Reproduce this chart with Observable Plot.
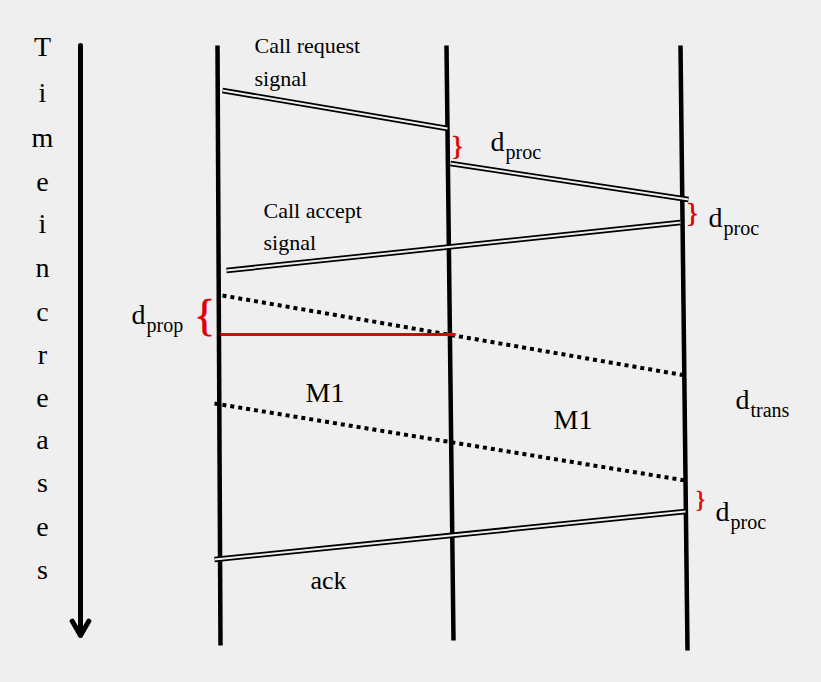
<!DOCTYPE html>
<html><head>
<script src="https://cdn.jsdelivr.net/npm/d3@7"></script>
<script src="https://cdn.jsdelivr.net/npm/@observablehq/plot@0.6"></script>
<style>body{margin:0;background:#efefef}</style>
</head><body>
<div id="c"></div>
<script>
const bg = "#efefef";
const F = "Liberation Serif, Times New Roman, serif";
const timelines = [
  {x1:217,y1:45,x2:220,y2:645},
  {x1:446,y1:45,x2:453,y2:640},
  {x1:680,y1:45,x2:687,y2:650}
];
const signals = [
  {x1:222,y1:90,x2:447,y2:128},
  {x1:450,y1:163,x2:688,y2:199},
  {x1:226,y1:270,x2:680,y2:222},
  {x1:214,y1:559,x2:685,y2:511}
];
const messages = [
  {x1:222,y1:295,x2:685,y2:375},
  {x1:214,y1:403,x2:685,y2:480}
];
const propLine = [{x1:220,y1:334,x2:455,y2:334}];
const letters = "Timeincreases".split("");
const letterY = [47,93,138,182,224,268,312,355,398,440,483,527,570];
const labels = [
  {x:254,y:45,t:"Call request",s:22},
  {x:254,y:78,t:"signal",s:22},
  {x:263,y:210,t:"Call accept",s:22},
  {x:263,y:242,t:"signal",s:22},
  {x:305,y:393,t:"M1",s:28},
  {x:553,y:420,t:"M1",s:28},
  {x:310,y:580,t:"ack",s:26}
];
const subs = [
  {x:490,y:142,sub:"proc"},
  {x:708,y:218,sub:"proc"},
  {x:131,y:315,sub:"prop"},
  {x:735,y:400,sub:"trans"},
  {x:715,y:512,sub:"proc"}
];
const braces = [
  {x:457,y:146,t:"}",s:28},
  {x:692,y:213,t:"}",s:28},
  {x:204,y:315,t:"{",s:44},
  {x:700,y:499,t:"}",s:24}
];
const bigBrace = [{x:703,y:428,t:"}",s:46}];
const plot = Plot.plot({
  width:821, height:682, margin:0,
  x:{domain:[0,821], range:[0,821], axis:null},
  y:{domain:[0,682], range:[0,682], axis:null},
  style:{background:bg},
  marks:[
    Plot.link(timelines,{x1:"x1",y1:"y1",x2:"x2",y2:"y2",stroke:"black",strokeWidth:4.5}),
    Plot.link(signals,{x1:"x1",y1:"y1",x2:"x2",y2:"y2",stroke:"black",strokeWidth:5.5}),
    Plot.link(signals,{x1:"x1",y1:"y1",x2:"x2",y2:"y2",stroke:bg,strokeWidth:2}),
    Plot.link(messages,{x1:"x1",y1:"y1",x2:"x2",y2:"y2",stroke:"black",strokeWidth:4,strokeDasharray:"4,4"}),
    Plot.link(propLine,{x1:"x1",y1:"y1",x2:"x2",y2:"y2",stroke:"#e00000",strokeWidth:3}),
    Plot.arrow([{x1:80,y1:45,x2:80,y2:635}],{x1:"x1",y1:"y1",x2:"x2",y2:"y2",stroke:"black",strokeWidth:5,headLength:5}),
    Plot.text(letters,{x:42,y:(d,i)=>letterY[i],text:d=>d,fontSize:28,fontFamily:F,fill:"black"}),
    Plot.text(labels,{x:"x",y:"y",text:"t",fontSize:d=>d.s,fontFamily:F,textAnchor:"start",fill:"black"}),
    Plot.text(subs,{x:"x",y:"y",text:()=>"d",fontSize:28,fontFamily:F,textAnchor:"start",fill:"black"}),
    Plot.text(subs,{x:d=>d.x+15,y:d=>d.y+10,text:"sub",fontSize:20,fontFamily:F,textAnchor:"start",fill:"black"}),
    Plot.text(braces,{x:"x",y:"y",text:"t",fontSize:"s",fontFamily:F,fill:"#e00000",stroke:"#e00000",strokeWidth:0.6}),
    Plot.text(bigBrace,{x:"x",y:"y",text:"t",fontSize:"s",fontFamily:F,fill:"#e00000",stroke:"#e00000",strokeWidth:1.2,className:"bigbrace"})
  ]
});
document.getElementById("c").append(plot);
plot.querySelectorAll(".bigbrace text").forEach(t=>{
  const b = t.getBBox();
  const cx = b.x + b.width/2, cy = b.y + b.height/2;
  const prev = t.getAttribute("transform") || "";
  t.setAttribute("transform", `translate(${cx},${cy}) scale(1,2.4) translate(${-cx},${-cy}) ${prev}`);
});
</script>
</body></html>
